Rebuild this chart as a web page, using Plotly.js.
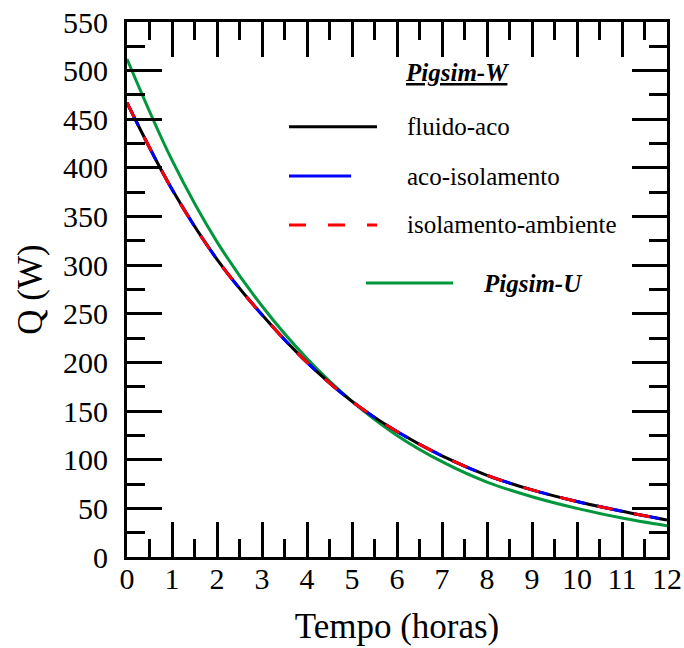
<!DOCTYPE html>
<html>
<head>
<meta charset="utf-8">
<script src="https://cdn.plot.ly/plotly-3.0.1.min.js"></script>
<style>html,body{margin:0;padding:0;background:#fff;}#chart{width:684px;height:648px;}</style>
</head>
<body>
<div id="chart"></div>
<script>
const tempo = [0, 1, 2, 3, 4, 5, 6, 7, 8, 9, 10, 11, 12];
const fluidoAco = [467, 378, 306, 249, 200, 160, 129, 104, 84, 69, 57, 47, 38];
const acoIsolamento = [467, 378, 306, 249, 200, 160, 129, 104, 84, 69, 57, 47, 38];
const isolamentoAmbiente = [467, 378, 306, 249, 200, 160, 129, 104, 84, 69, 57, 47, 38];
const pigsimU = [512, 408, 324, 258, 204, 160, 125, 98, 77, 62, 50, 40, 32];
const xTicks = [0, 1, 2, 3, 4, 5, 6, 7, 8, 9, 10, 11, 12];
const yTicks = [0, 50, 100, 150, 200, 250, 300, 350, 400, 450, 500, 550];

const FONT = 'Liberation Serif';
const GREEN = '#00963c';

const traces = [
  {x: tempo, y: pigsimU, mode: 'lines', line: {color: GREEN, width: 3, shape: 'spline'}, name: 'Pigsim-U'},
  {x: tempo, y: fluidoAco, mode: 'lines', line: {color: '#000000', width: 3, shape: 'spline'}, name: 'fluido-aco'},
  {x: tempo, y: acoIsolamento, mode: 'lines', line: {color: '#0000ff', width: 3, shape: 'spline', dash: '26px,12px'}, name: 'aco-isolamento'},
  {x: tempo, y: isolamentoAmbiente, mode: 'lines', line: {color: '#ff0000', width: 3, shape: 'spline', dash: '16px,22px'}, name: 'isolamento-ambiente'}
];

const layout = {
  width: 684, height: 648,
  margin: {l: 127, r: 17, t: 22, b: 91},
  paper_bgcolor: '#fff', plot_bgcolor: '#fff',
  showlegend: false,
  font: {family: FONT, color: '#000', size: 30},
  xaxis: {
    showline: true, linewidth: 3, linecolor: '#000', mirror: 'ticks',
    ticks: 'inside', ticklen: 35, tickwidth: 3, tickcolor: '#000',
    showgrid: false, zeroline: false, automargin: false,
    tickfont: {family: FONT, size: 30, color: '#000'},
    range: [0, 12], tickvals: xTicks, ticktext: xTicks.map(String),
    minor: {dtick: 0.5, tick0: 0, ticks: 'inside', ticklen: 18, tickwidth: 3, tickcolor: '#000', showgrid: false},
    ticklabelstandoff: -7,
    title: {text: 'Tempo (horas)', font: {family: FONT, size: 35, color: '#000'}, standoff: 20}
  },
  yaxis: {
    showline: true, linewidth: 3, linecolor: '#000', mirror: 'ticks',
    ticks: 'inside', ticklen: 35, tickwidth: 3, tickcolor: '#000',
    showgrid: false, zeroline: false, automargin: false,
    tickfont: {family: FONT, size: 30, color: '#000'},
    range: [0, 550], tickvals: yTicks, ticktext: yTicks.map(String),
    minor: {dtick: 25, tick0: 0, ticks: 'inside', ticklen: 18, tickwidth: 3, tickcolor: '#000', showgrid: false},
    ticklabelstandoff: 10,
    title: {text: 'Q (W)', font: {family: FONT, size: 35, color: '#000'}, standoff: 10}
  },
  shapes: [
    {type: 'line', xref: 'paper', yref: 'paper', x0: 0.300, x1: 0.463, y0: 0.804, y1: 0.804, line: {color: '#000', width: 3}},
    {type: 'line', xref: 'paper', yref: 'paper', x0: 0.300, x1: 0.415, y0: 0.712, y1: 0.712, line: {color: '#0000ff', width: 3}},
    {type: 'line', xref: 'paper', yref: 'paper', x0: 0.300, x1: 0.463, y0: 0.6206, y1: 0.6206, line: {color: '#ff0000', width: 3, dash: '17px,22px'}},
    {type: 'line', xref: 'paper', yref: 'paper', x0: 0.4426, x1: 0.6037, y0: 0.512, y1: 0.512, line: {color: GREEN, width: 3}}
  ],
  annotations: [
    {xref: 'paper', yref: 'paper', x: 0.611, y: 0.905, xanchor: 'center', yanchor: 'middle', showarrow: false,
     text: '<b><i><u>Pigsim-W</u></i></b>', font: {family: FONT, size: 25, color: '#000'}},
    {xref: 'paper', yref: 'paper', x: 0.5148, y: 0.804, xanchor: 'left', yanchor: 'middle', showarrow: false,
     text: 'fluido-aco', font: {family: FONT, size: 25, color: '#000'}},
    {xref: 'paper', yref: 'paper', x: 0.5148, y: 0.712, xanchor: 'left', yanchor: 'middle', showarrow: false,
     text: 'aco-isolamento', font: {family: FONT, size: 25, color: '#000'}},
    {xref: 'paper', yref: 'paper', x: 0.5148, y: 0.6206, xanchor: 'left', yanchor: 'middle', showarrow: false,
     text: 'isolamento-ambiente', font: {family: FONT, size: 25, color: '#000'}},
    {xref: 'paper', yref: 'paper', x: 0.6556, y: 0.512, xanchor: 'left', yanchor: 'middle', showarrow: false,
     text: '<b><i>Pigsim-U</i></b>', font: {family: FONT, size: 25, color: '#000'}}
  ]
};

Plotly.newPlot('chart', traces, layout, {displayModeBar: false, staticPlot: true});
</script>
</body>
</html>
